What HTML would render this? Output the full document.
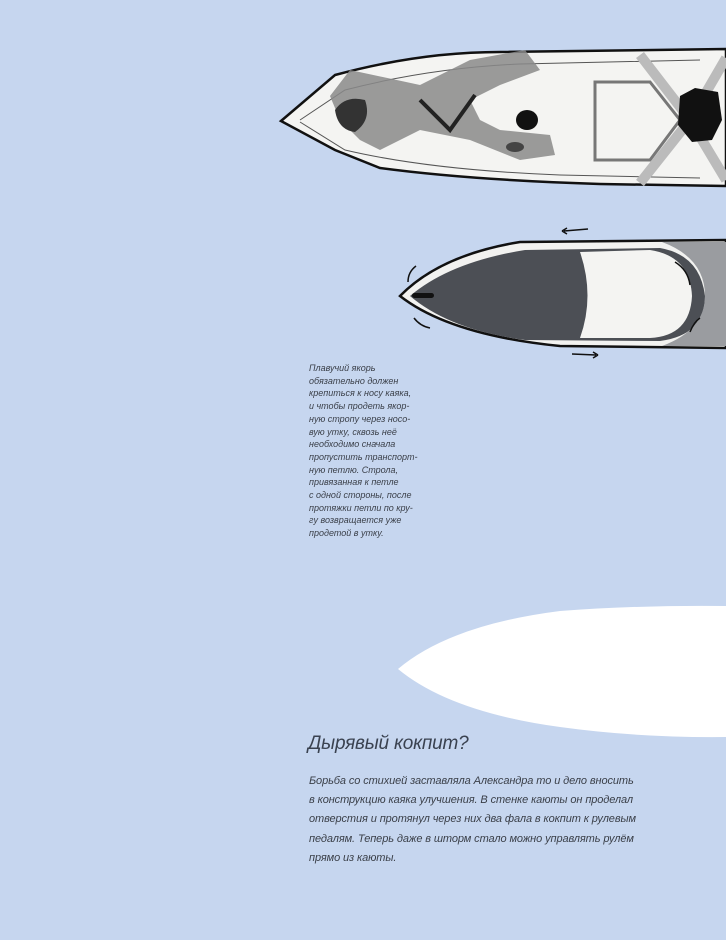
<!DOCTYPE html>
<html><head><meta charset="utf-8"><style>
html,body{margin:0;padding:0;}
body{width:726px;height:940px;background:#c6d6ef;position:relative;overflow:hidden;font-family:"Liberation Sans",sans-serif;}
.cap{position:absolute;left:309px;top:362px;font-size:9px;line-height:12.7px;font-style:italic;color:#3a3f48;white-space:nowrap;}
h2{position:absolute;left:308px;top:733px;margin:0;font-weight:normal;font-style:italic;font-size:19px;color:#3a4250;letter-spacing:-0.2px;}
.p{position:absolute;left:309px;top:772px;font-size:11px;line-height:19.2px;font-style:italic;color:#3a3f48;white-space:nowrap;letter-spacing:-0.1px;}
svg{position:absolute;left:0;top:0;}
</style></head><body>
<svg width="726" height="940" viewBox="0 0 726 940">
<path d="M281,121 L335,75 Q420,52 500,52 L726,49 L726,186 L600,184 Q470,180 380,168 L335,150 Z" fill="#f4f4f2" stroke="#111" stroke-width="2.5"/>
<path d="M300,120 L345,90 Q430,68 520,64 L700,60" fill="none" stroke="#555" stroke-width="1"/>
<path d="M300,122 L345,150 Q430,170 560,175 L700,178" fill="none" stroke="#555" stroke-width="1"/>
<path d="M330,96 L350,70 L420,85 L470,60 L525,50 L540,70 L500,85 L470,100 L480,120 L500,130 L550,135 L555,155 L520,160 L470,140 L420,130 L380,150 L360,140 L340,120 Z" fill="#8a8a8a" opacity="0.85"/>
<path d="M335,110 Q345,95 365,100 Q372,120 355,132 Q338,130 335,110 Z" fill="#333"/>
<path d="M420,100 L450,130 L475,95" fill="none" stroke="#222" stroke-width="4"/>
<path d="M595,82 L650,82 L680,120 L650,160 L595,160 Z" fill="none" stroke="#777" stroke-width="3"/>
<path d="M640,55 L690,120 L640,183 M726,58 L690,120 L726,180" fill="none" stroke="#bbb" stroke-width="10"/>
<path d="M680,96 L695,88 L718,92 L722,120 L712,140 L692,142 L678,125 Z" fill="#111"/>
<ellipse cx="527" cy="120" rx="11" ry="10" fill="#111"/>
<ellipse cx="515" cy="147" rx="9" ry="5" fill="#444"/>
<path d="M400,296 Q440,255 520,242 L726,240 L726,348 L560,346 Q450,335 400,296 Z" fill="#f2f2f0" stroke="#111" stroke-width="2.5"/>
<path d="M410,296 Q450,262 525,250 L660,248 Q700,255 705,296 Q705,335 660,341 L525,340 Q450,330 410,296 Z" fill="#4c4f55"/>
<path d="M580,252 L650,250 Q690,256 692,296 Q690,336 650,338 L580,338 Q595,296 580,252 Z" fill="#f4f4f2"/>
<path d="M662,242 L726,242 L726,346 L662,346 Q705,330 705,296 Q705,258 662,242 Z" fill="#9a9ca0"/>
<rect x="412" y="293" width="22" height="5" rx="2.5" fill="#111"/>
<g stroke="#111" stroke-width="1.5" fill="none">
<path d="M588,229 L564,231 M562,231 l5,-3 M562,231 l5,3"/>
<path d="M572,354 L596,355 M598,355 l-5,-3 M598,355 l-5,3"/>
<path d="M408,282 Q408,272 416,266"/>
<path d="M414,318 Q420,326 430,328"/>
<path d="M675,262 Q688,270 690,285"/>
<path d="M690,332 Q694,322 700,318"/>
</g>
<path d="M398,669 Q450,625 560,611 Q640,605 726,606 L726,737 Q640,738 560,727 Q450,712 398,669 Z" fill="#ffffff"/>
</svg>
<div class="cap">Плавучий якорь<br>обязательно должен<br>крепиться к носу каяка,<br>и чтобы продеть якор-<br>ную стропу через носо-<br>вую утку, сквозь неё<br>необходимо сначала<br>пропустить транспорт-<br>ную петлю. Строла,<br>привязанная к петле<br>с одной стороны, после<br>протяжки петли по кру-<br>гу возвращается уже<br>продетой в утку.</div>
<h2>Дырявый кокпит?</h2>
<div class="p">Борьба со стихией заставляла Александра то и дело вносить<br>в конструкцию каяка улучшения. В стенке каюты он проделал<br>отверстия и протянул через них два фала в кокпит к рулевым<br>педалям. Теперь даже в шторм стало можно управлять рулём<br>прямо из каюты.</div>
</body></html>
